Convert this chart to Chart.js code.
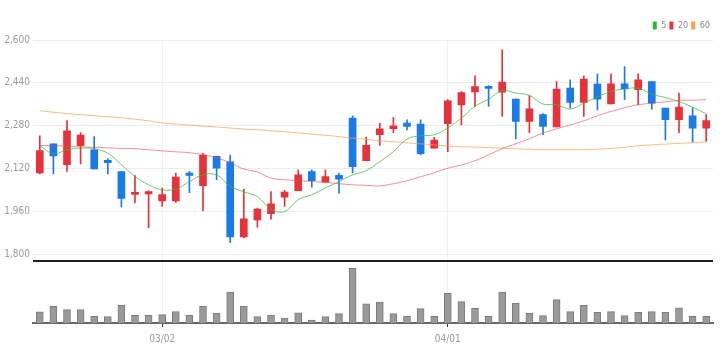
<!DOCTYPE html>
<html>
<head>
<meta charset="utf-8">
<script src="https://cdn.jsdelivr.net/npm/chart.js@4/dist/chart.umd.min.js"></script>
<style>
    html, body { margin: 0; padding: 0; background: #fff; }
    #wrap { width: 727px; height: 363px; }
</style>
</head>
<body>
<div id="wrap"><canvas id="stockChart" width="727" height="363"></canvas></div>
<script>
// Daily candles with 5/20/60 moving averages and volume

const dates = [
    '02/16', '02/17', '02/18', '02/21', '02/22', '02/23', '02/24', '02/25', '02/28',
    '03/02', '03/03', '03/04', '03/07', '03/08', '03/10', '03/11', '03/14', '03/15', '03/16',
    '03/17', '03/18', '03/21', '03/22', '03/23', '03/24', '03/25', '03/28', '03/29', '03/30', '03/31',
    '04/01', '04/04', '04/05', '04/06', '04/07', '04/08', '04/11', '04/12', '04/13', '04/14',
    '04/15', '04/18', '04/19', '04/20', '04/21', '04/22', '04/25', '04/26', '04/27', '04/28'
];
const shownDates = ['03/02', '04/01'];

const opens = [2103, 2212, 2134, 2205, 2190, 2150, 2108, 2023, 2025, 1999, 1999, 2103, 2056, 2165, 2145, 1864, 1928, 1951, 2013, 2037,
    2108, 2069, 2094, 2308, 2149, 2246, 2269, 2290, 2286, 2196, 2287, 2357, 2406, 2426, 2405, 2379, 2296, 2321, 2275, 2420,
    2367, 2435, 2361, 2436, 2414, 2445, 2346, 2302, 2317, 2271];
const highs = [2242, 2212, 2299, 2254, 2239, 2157, 2108, 2093, 2036, 2047, 2103, 2109, 2177, 2165, 2170, 2043, 1972, 2034, 2038, 2115,
    2115, 2115, 2103, 2317, 2237, 2290, 2311, 2302, 2302, 2236, 2377, 2407, 2466, 2430, 2563, 2379, 2392, 2325, 2445, 2451,
    2466, 2474, 2474, 2501, 2474, 2445, 2346, 2402, 2346, 2321];
const lows = [2100, 2100, 2109, 2137, 2118, 2100, 1976, 1991, 1899, 1978, 1993, 2030, 1962, 2078, 1843, 1861, 1901, 1931, 1978, 2037,
    2050, 2069, 2028, 2103, 2149, 2206, 2254, 2264, 2171, 2196, 2183, 2283, 2352, 2352, 2314, 2230, 2254, 2246, 2275, 2346,
    2314, 2339, 2361, 2377, 2358, 2342, 2227, 2254, 2217, 2221];
const closes = [2187, 2167, 2261, 2245, 2118, 2142, 2008, 2030, 2034, 2022, 2088, 2094, 2170, 2121, 1864, 1932, 1968, 1988, 2032, 2096,
    2074, 2090, 2080, 2127, 2206, 2268, 2279, 2277, 2175, 2226, 2373, 2404, 2426, 2419, 2443, 2296, 2343, 2277, 2417, 2367,
    2454, 2379, 2436, 2417, 2451, 2364, 2302, 2349, 2271, 2299];

const ma5 = [2206, 2175, 2190, 2196, 2194, 2177, 2134, 2090, 2059, 2040, 2043, 2071, 2096, 2096, 2053, 2033, 2015, 1968, 1959, 2003,
    2022, 2047, 2071, 2096, 2112, 2146, 2183, 2230, 2242, 2246, 2271, 2308, 2352, 2379, 2411, 2402, 2393, 2361, 2358, 2342,
    2364, 2387, 2408, 2417, 2420, 2398, 2385, 2370, 2349, 2324];
const ma20 = [2206, 2205, 2203, 2201, 2199, 2197, 2195, 2194, 2190, 2186, 2182, 2179, 2171, 2160, 2141, 2118, 2107, 2084, 2078, 2074,
    2071, 2068, 2063, 2059, 2057, 2055, 2063, 2074, 2089, 2104, 2121, 2133, 2149, 2171, 2194, 2212, 2231, 2252, 2268, 2283,
    2298, 2317, 2333, 2347, 2358, 2364, 2369, 2374, 2375, 2377];
const ma60 = [2336, 2330, 2325, 2321, 2317, 2313, 2309, 2304, 2298, 2290, 2286, 2282, 2278, 2275, 2271, 2267, 2265, 2261, 2257, 2253,
    2248, 2244, 2239, 2233, 2229, 2223, 2220, 2216, 2212, 2208, 2204, 2201, 2200, 2198, 2196, 2194, 2192, 2190, 2190, 2190,
    2190, 2192, 2195, 2199, 2205, 2208, 2211, 2214, 2216, 2219];

// volume, thousand shares
const volumes = [220, 334, 266, 266, 134, 126, 354, 154, 154, 166, 226, 154, 334, 194, 614, 334, 126, 160, 100, 200,
    60, 126, 186, 1086, 380, 414, 186, 134, 286, 134, 594, 426, 294, 134, 614, 394, 194, 146, 466, 226,
    354, 214, 226, 146, 214, 226, 214, 300, 134, 134];

const priceTicks = [1800, 1960, 2120, 2280, 2440, 2600];

const UP = '#e6323a';
const DOWN = '#1a7ae8';
const FONT = "'DejaVu Sans Condensed', 'Liberation Sans Narrow', sans-serif";

document.addEventListener('DOMContentLoaded', () => {
    initStockChart();
});

function initStockChart() {
    const candleColors = opens.map((o, i) => closes[i] >= o ? UP : DOWN);

    // black rule between price panel and volume panel
    const separator = {
        id: 'separator',
        afterDraw(chart) {
            const { ctx, chartArea } = chart;
            const y = Math.round(chart.scales.y.bottom);
            ctx.save();
            ctx.strokeStyle = '#222';
            ctx.lineWidth = 2;
            ctx.beginPath();
            ctx.moveTo(chartArea.left, y);
            ctx.lineTo(chartArea.right, y);
            ctx.stroke();
            ctx.restore();
        }
    };

    const ctx = document.getElementById('stockChart').getContext('2d');
    new Chart(ctx, {
        data: {
            labels: dates,
            datasets: [
                { type: 'line', label: '5', data: ma5, yAxisID: 'y', borderColor: 'rgba(60,185,60,0.75)', backgroundColor: '#2eb82e', borderWidth: 1, pointRadius: 0, tension: 0.4, order: 0 },
                { type: 'line', label: '20', data: ma20, yAxisID: 'y', borderColor: 'rgba(235,70,90,0.6)', backgroundColor: '#e8343c', borderWidth: 1, pointRadius: 0, tension: 0.4, order: 0 },
                { type: 'line', label: '60', data: ma60, yAxisID: 'y', borderColor: 'rgba(245,160,80,0.7)', backgroundColor: '#f5a24a', borderWidth: 1, pointRadius: 0, tension: 0.4, order: 0 },
                {
                    type: 'bar', label: 'wick', data: lows.map((l, i) => [l, highs[i]]), yAxisID: 'y',
                    backgroundColor: candleColors, barThickness: 1, grouped: false, order: 2
                },
                {
                    type: 'bar', label: 'body', data: opens.map((o, i) => [o, closes[i]]), yAxisID: 'y',
                    backgroundColor: candleColors, barThickness: 7, minBarLength: 2, grouped: false, order: 1
                },
                {
                    type: 'bar', label: 'volume', data: volumes, yAxisID: 'vol',
                    backgroundColor: '#9a9a9a', borderColor: '#7c7c7c', borderWidth: 1, barThickness: 7, grouped: false, order: 1
                }
            ]
        },
        options: {
            responsive: false,
            animation: false,
            layout: { padding: { top: 18, right: 14, bottom: 12, left: 0 } },
            plugins: {
                legend: {
                    position: 'top',
                    align: 'end',
                    labels: {
                        boxWidth: 4,
                        boxHeight: 8,
                        padding: 3,
                        color: '#888',
                        font: { family: FONT, size: 9 },
                        filter: item => ['5', '20', '60'].includes(item.text),
                        generateLabels(chart) {
                            return Chart.defaults.plugins.legend.labels.generateLabels(chart).map(l => {
                                l.strokeStyle = l.fillStyle;
                                l.lineWidth = 0;
                                return l;
                            });
                        }
                    }
                },
                tooltip: { enabled: false }
            },
            scales: {
                x: {
                    type: 'category',
                    offset: true,
                    grid: { offset: false, color: '#efefef', tickColor: '#333', tickLength: 4 },
                    border: { color: '#666', width: 2 },
                    ticks: {
                        autoSkip: false,
                        maxRotation: 0,
                        color: '#999',
                        font: { family: FONT, size: 10 },
                        padding: 6,
                        callback(value) {
                            const label = this.getLabelForValue(value);
                            return shownDates.includes(label) ? label : null;
                        }
                    }
                },
                y: {
                    position: 'left',
                    stack: 'panels',
                    stackWeight: 3.55,
                    weight: 2,
                    min: 1775,
                    max: 2600,
                    afterBuildTicks: scale => { scale.ticks = priceTicks.map(v => ({ value: v })); },
                    afterFit: scale => { scale.width = 33; },
                    grid: { color: '#ececec', drawTicks: false },
                    border: { display: false },
                    ticks: {
                        color: '#999',
                        padding: 3,
                        font: { family: FONT, size: 10 },
                        callback: v => v.toLocaleString('en-US')
                    }
                },
                vol: {
                    position: 'left',
                    stack: 'panels',
                    stackWeight: 1,
                    weight: 1,
                    min: 0,
                    max: Math.max(...volumes) * 1.14,
                    grid: { display: false },
                    border: { display: false },
                    ticks: { display: false }
                }
            }
        },
        plugins: [separator]
    });
}
</script>
</body>
</html>
